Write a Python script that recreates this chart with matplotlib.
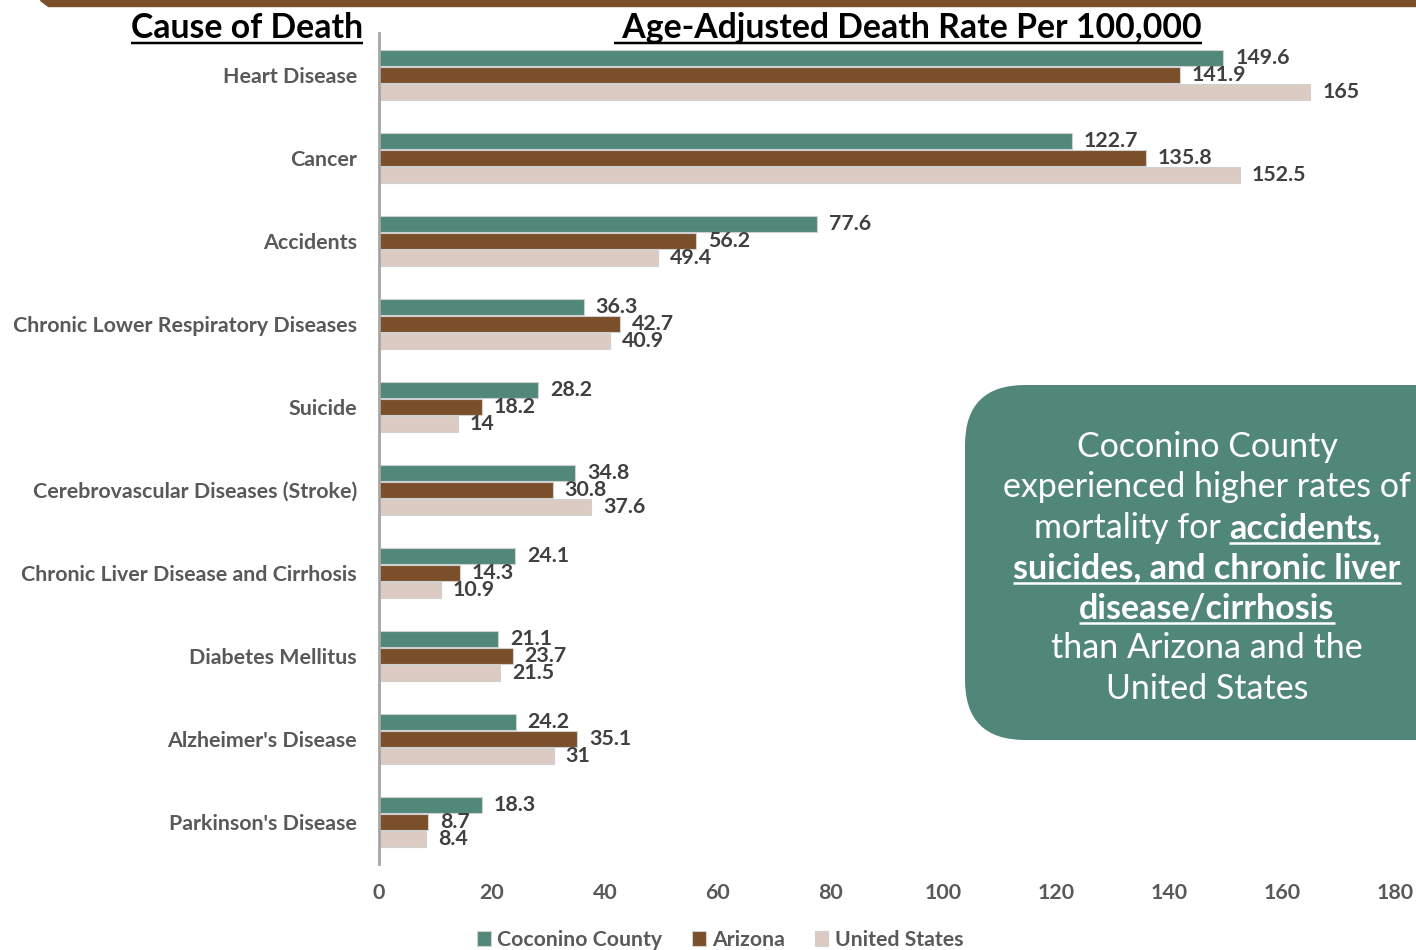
import matplotlib
matplotlib.use('Agg')
import matplotlib.pyplot as plt
from matplotlib.patches import FancyBboxPatch, Polygon
import numpy as np

# Datos
causas = ['Heart Disease', 'Cancer', 'Accidents', 'Chronic Lower Respiratory Diseases',
          'Suicide', 'Cerebrovascular Diseases (Stroke)', 'Chronic Liver Disease and Cirrhosis',
          'Diabetes Mellitus', "Alzheimer's Disease", "Parkinson's Disease"]
coconino = [149.6, 122.7, 77.6, 36.3, 28.2, 34.8, 24.1, 21.1, 24.2, 18.3]
arizona = [141.9, 135.8, 56.2, 42.7, 18.2, 30.8, 14.3, 23.7, 35.1, 8.7]
estados_unidos = [165, 152.5, 49.4, 40.9, 14, 37.6, 10.9, 21.5, 31, 8.4]
series = ['Coconino County', 'Arizona', 'United States']
colores = ['#52887A', '#7B4F2A', '#DCCBC2']
ticks_x = [0, 20, 40, 60, 80, 100, 120, 140, 160, 180]

plt.rcParams['font.family'] = ['Lato', 'DejaVu Sans']
gris = '#595959'
oscuro = '#404040'

W, H = 1416, 950
fig = plt.figure(figsize=(W / 100, H / 100), dpi=100)
ax = fig.add_axes([379 / W, 1 - 863.5 / H, 1016 / W, 830 / H])
ax.patch.set_visible(False)

y = np.arange(len(causas))
paso = 0.205
alto = 0.19
for i, (vals, nombre, c) in enumerate(zip([coconino, arizona, estados_unidos], series, colores)):
    barras = ax.barh(y + (i - 1) * paso, vals, height=alto, color=c,
                     edgecolor='#D0D0D0', linewidth=0.8, label=nombre)
    ax.bar_label(barras, labels=[f'{v:g}' for v in vals], padding=8.5,
                 fontsize=15.4, fontweight='bold', color=oscuro)

ax.set_xlim(0, 180)
ax.set_ylim(len(causas) - 0.5, -0.5)
ax.set_xticks(ticks_x)
ax.set_yticks(y)
ax.set_yticklabels(causas)
ax.tick_params(axis='both', length=0, labelsize=15.4, labelcolor=gris)
ax.tick_params(axis='x', pad=14)
ax.tick_params(axis='y', pad=16)
for lbl in ax.get_xticklabels() + ax.get_yticklabels():
    lbl.set_fontweight('bold')
for s in ['top', 'right', 'bottom']:
    ax.spines[s].set_visible(False)
ax.spines['left'].set_color('#A6A6A6')
ax.spines['left'].set_linewidth(2)

leg = fig.legend(loc='center', bbox_to_anchor=(720 / W, 1 - 940 / H), ncol=3, frameon=False,
                 handlelength=0.65, handleheight=0.65, handletextpad=0.3, columnspacing=1.4,
                 prop={'size': 15.3, 'weight': 'bold'})
for t in leg.get_texts():
    t.set_color(gris)

# Capa de decoración en píxeles
deco = fig.add_axes([0, 0, 1, 1], zorder=5)
deco.set_xlim(0, W)
deco.set_ylim(H, 0)
deco.axis('off')
deco.patch.set_visible(False)

deco.add_patch(Polygon([(40, 0), (W, 0), (W, 6), (48, 6)], closed=True, color='#7B4F2A'))

renderer = fig.canvas.get_renderer()


def ancho(t):
    bb = t.get_window_extent(renderer)
    return bb.x0, bb.x1


def subrayar(t, yb, grosor=2.5, color='black'):
    x0, x1 = ancho(t)
    deco.plot([x0, x1], [yb, yb], color=color, lw=grosor * 0.72, solid_capstyle='butt')


t1 = deco.text(247, 38, 'Cause of Death', fontsize=24.3, fontweight='bold', ha='center', va='baseline')
t2 = deco.text(908, 38, ' Age-Adjusted Death Rate Per 100,000', fontsize=24.3, fontweight='bold',
               ha='center', va='baseline')
subrayar(t1, 43)
subrayar(t2, 43)

# Recuadro
deco.add_patch(FancyBboxPatch((965, 385), 520, 355, boxstyle='round,pad=0,rounding_size=60',
                              facecolor='#518779', edgecolor='none'))

lineas = [
    [('Coconino County', False)],
    [('experienced higher rates of', False)],
    [('mortality for', False), ('accidents,', True)],
    [('suicides, and chronic liver', True)],
    [('disease/cirrhosis', True)],
    [('than Arizona and the', False)],
    [('United States', False)],
]
fs = 24.5
cx = 1207
base0 = 457
interlinea = 40.3
tmp = deco.text(0, 0, 'x x', fontsize=fs)
a0, a1 = ancho(tmp)
tmp2 = deco.text(0, 0, 'xx', fontsize=fs)
b0, b1 = ancho(tmp2)
espacio = (a1 - a0) - (b1 - b0)
tmp.remove()
tmp2.remove()

for k, linea in enumerate(lineas):
    yb = base0 + k * interlinea
    textos = []
    for txt, neg in linea:
        t = deco.text(0, yb, txt, fontsize=fs, color='white', va='baseline', ha='left',
                      fontweight='bold' if neg else 'normal')
        x0, x1 = ancho(t)
        textos.append((t, x1 - x0, neg))
    total = sum(w for _, w, _ in textos) + espacio * (len(textos) - 1)
    x = cx - total / 2
    for t, w, neg in textos:
        t.set_x(x)
        if neg:
            deco.plot([x, x + w], [yb + 5, yb + 5], color='white', lw=1.8, solid_capstyle='butt')
        x += w + espacio

fig.savefig('out.png', dpi=100)
